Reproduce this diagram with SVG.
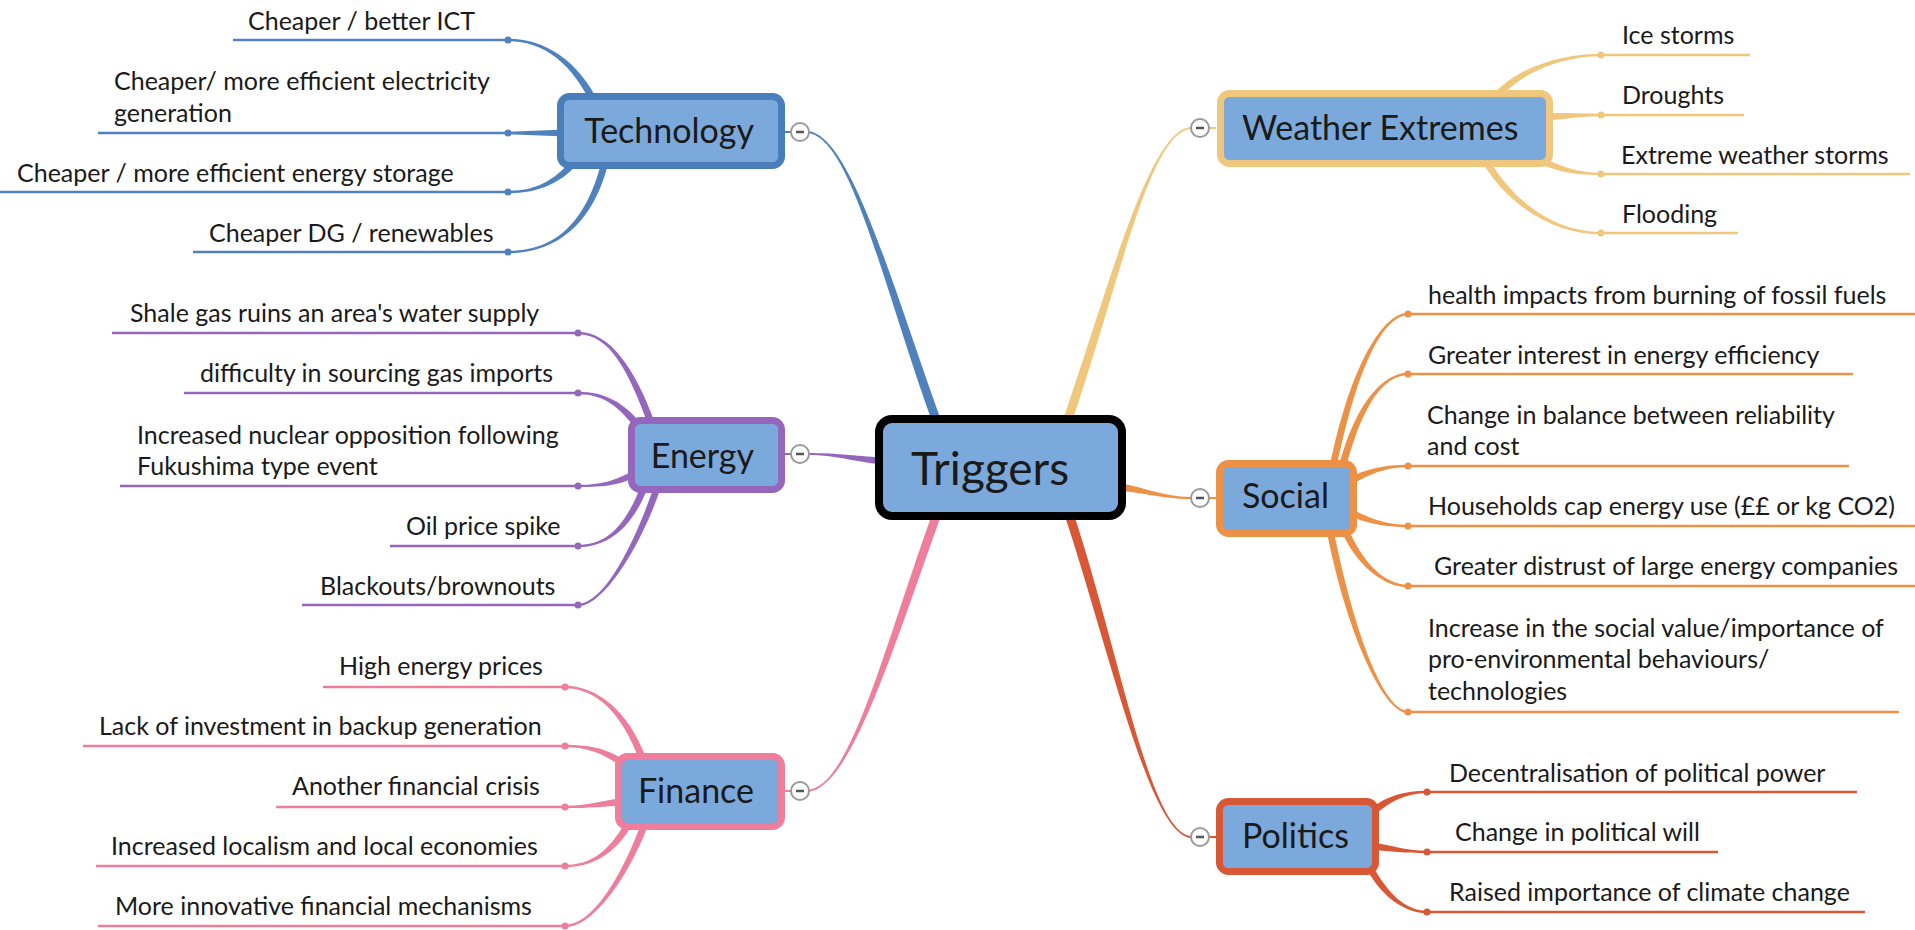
<svg xmlns="http://www.w3.org/2000/svg" width="1915" height="930" viewBox="0 0 1915 930">
<style>
text{font-family:Lato,"Open Sans","Liberation Sans",sans-serif;fill:#1a1a1a}
.leaf{font-size:25px}
.topic{font-size:34px}
.box{fill:#7BA9DB;stroke-width:7}
.ln{stroke-width:2.5;fill:none}
.tc{fill:#4F81BD}.tl{stroke:#4F81BD}
.ec{fill:#9467BD}.el{stroke:#9467BD}
.fc{fill:#EE7E9B}.fl{stroke:#EE7E9B}
.wc{fill:#EFC87E}.wl{stroke:#EFC87E}
.sc{fill:#EC9146}.sl{stroke:#EC9146}
.pc{fill:#D85734}.pl{stroke:#D85734}
.col circle{fill:#fff;stroke:#9a9a9a;stroke-width:2}
.col line{stroke:#555;stroke-width:2.5}
</style>
<g id="connectors">
<path class="tc" d="M785,131 H806 C850,131 891.2,282.5 942.2,423.5 L933.8,426.5 C882.8,285.5 850,133 806,133 H785 Z"/>
<path class="ec" d="M785,453 H806 C840,453 860,456.5 885,457.5 L885,464.5 C860,463.5 840,455 806,455 H785 Z"/>
<path class="fc" d="M785,790 H806 C850,790 882.8,650.5 933.8,509.5 L942.2,512.5 C891.2,653.5 850,792 806,792 H785 Z"/>
<path class="wc" d="M1216,129 H1192 C1150,129 1119.3,284.5 1070.3,426.5 L1061.7,423.5 C1110.7,281.5 1150,127 1192,127 H1216 Z"/>
<path class="sc" d="M1216,499 H1192 C1160,499 1140,491.5 1115,490.5 L1115,483.5 C1140,484.5 1160,497 1192,497 H1216 Z"/>
<path class="pc" d="M1216,838 H1192 C1150,838 1110.7,653.5 1063.7,512.5 L1072.3,509.5 C1119.3,650.5 1150,836 1192,836 H1216 Z"/>
<path class="tc" d="M508,38.8 C545,38.8 578.2,60.5 599.2,103.5 L592.8,106.5 C571.8,63.5 545,41.2 508,41.2 Z"/>
<path class="tc" d="M508,131.8 L566,129.5 L566,136.5 L508,134.2 Z"/>
<path class="tc" d="M508,190.8 C540,190.8 557.3,177.8 575.3,155.8 L580.7,160.2 C562.7,182.2 540,193.2 508,193.2 Z"/>
<path class="tc" d="M508,250.8 C545,250.8 584.6,234.2 602.6,157.2 L609.4,158.8 C591.4,235.8 545,253.2 508,253.2 Z"/>
<g class="tl ln"><path d="M233,40H508M98,133H508M0,192H508M193,252H508"/></g>
<g class="tc"><circle cx="508" cy="40" r="3.5"/><circle cx="508" cy="133" r="3.5"/><circle cx="508" cy="192" r="3.5"/><circle cx="508" cy="252" r="3.5"/></g>
<path class="ec" d="M578,331.8 C610,331.8 635.3,368.8 655.3,423.8 L648.7,426.2 C628.7,371.2 610,334.2 578,334.2 Z"/>
<path class="ec" d="M578,391.8 C605,391.8 624.8,402.8 642.8,425.8 L637.2,430.2 C619.2,407.2 605,394.2 578,394.2 Z"/>
<path class="ec" d="M578,484.8 C605,484.8 618.3,478.9 636.3,468.9 L639.7,475.1 C621.7,485.1 605,487.2 578,487.2 Z"/>
<path class="ec" d="M578,544.8 C605,544.8 624.7,528.8 641.7,483.8 L648.3,486.2 C631.3,531.2 605,547.2 578,547.2 Z"/>
<path class="ec" d="M578,603.8 C605,603.8 636.7,538.9 654.7,483.9 L661.3,486.1 C643.3,541.1 605,606.2 578,606.2 Z"/>
<g class="el ln"><path d="M112,333H578M184,393H578M120,486H578M390,546H578M302,605H578"/></g>
<g class="ec"><circle cx="578" cy="333" r="3.5"/><circle cx="578" cy="393" r="3.5"/><circle cx="578" cy="486" r="3.5"/><circle cx="578" cy="546" r="3.5"/><circle cx="578" cy="605" r="3.5"/></g>
<path class="fc" d="M565,685.8 C595,685.8 628.3,708.8 646.3,758.8 L639.7,761.2 C621.7,711.2 595,688.2 565,688.2 Z"/>
<path class="fc" d="M565,744.8 C590,744.8 610.1,749.2 627.1,762.2 L622.9,767.8 C605.9,754.8 590,747.2 565,747.2 Z"/>
<path class="fc" d="M565,805.8 C590,805.8 605,799.5 622,798.5 L622,805.5 C605,806.5 590,808.2 565,808.2 Z"/>
<path class="fc" d="M565,864.8 C592,864.8 609,850.2 625,823.2 L631,826.8 C615,853.8 592,867.2 565,867.2 Z"/>
<path class="fc" d="M565,924.8 C595,924.8 624.7,868.8 641.7,821.8 L648.3,824.2 C631.3,871.2 595,927.2 565,927.2 Z"/>
<g class="fl ln"><path d="M323,687H565M83,746H565M276,807H565M96,866H565M98,926H565"/></g>
<g class="fc"><circle cx="565" cy="687" r="3.5"/><circle cx="565" cy="746" r="3.5"/><circle cx="565" cy="807" r="3.5"/><circle cx="565" cy="866" r="3.5"/><circle cx="565" cy="926" r="3.5"/></g>
<path class="wc" d="M1601,56.2 C1565,56.2 1522.7,70.2 1497.7,100.2 L1492.3,95.8 C1517.3,65.8 1565,53.8 1601,53.8 Z"/>
<path class="wc" d="M1601,116.2 C1580,116.2 1565,119.5 1545,120.5 L1545,113.5 C1565,112.5 1580,113.8 1601,113.8 Z"/>
<path class="wc" d="M1601,175.2 C1580,175.2 1558.4,173.1 1538.4,163.1 L1541.6,156.9 C1561.6,166.9 1580,172.8 1601,172.8 Z"/>
<path class="wc" d="M1601,234.2 C1560,234.2 1512,211.8 1482,161.8 L1488,158.2 C1518,208.2 1560,231.8 1601,231.8 Z"/>
<g class="wl ln"><path d="M1601,55H1750M1601,115H1744M1601,174H1910M1601,233H1738"/></g>
<g class="wc"><circle cx="1601" cy="55" r="3.5"/><circle cx="1601" cy="115" r="3.5"/><circle cx="1601" cy="174" r="3.5"/><circle cx="1601" cy="233" r="3.5"/></g>
<path class="sc" d="M1408,315.2 C1385,315.2 1358.4,360.7 1336.4,468.7 L1329.6,467.3 C1351.6,359.3 1385,312.8 1408,312.8 Z"/>
<path class="sc" d="M1408,375.2 C1385,375.2 1363.4,400.9 1345.4,468.9 L1338.6,467.1 C1356.6,399.1 1385,372.8 1408,372.8 Z"/>
<path class="sc" d="M1408,467.2 C1385,467.2 1366.9,474.9 1351.9,484.9 L1348.1,479.1 C1363.1,469.1 1385,464.8 1408,464.8 Z"/>
<path class="sc" d="M1408,527.2 C1385,527.2 1363.4,523.1 1348.4,515.1 L1351.6,508.9 C1366.6,516.9 1385,524.8 1408,524.8 Z"/>
<path class="sc" d="M1408,587.2 C1385,587.2 1356.8,566.4 1341.8,531.4 L1348.2,528.6 C1363.2,563.6 1385,584.8 1408,584.8 Z"/>
<path class="sc" d="M1408,713.2 C1385,713.2 1348.6,640.7 1326.6,530.7 L1333.4,529.3 C1355.4,639.3 1385,710.8 1408,710.8 Z"/>
<g class="sl ln"><path d="M1408,314H1915M1408,374H1853M1408,466H1849M1408,526H1915M1408,586H1915M1408,712H1899"/></g>
<g class="sc"><circle cx="1408" cy="314" r="3.5"/><circle cx="1408" cy="374" r="3.5"/><circle cx="1408" cy="466" r="3.5"/><circle cx="1408" cy="526" r="3.5"/><circle cx="1408" cy="586" r="3.5"/><circle cx="1408" cy="712" r="3.5"/></g>
<path class="pc" d="M1427,793.2 C1405,793.2 1392.1,800.8 1374.1,814.8 L1369.9,809.2 C1387.9,795.2 1405,790.8 1427,790.8 Z"/>
<path class="pc" d="M1427,853.2 C1405,853.2 1390,851.5 1372,849.5 L1372,842.5 C1390,844.5 1405,850.8 1427,850.8 Z"/>
<path class="pc" d="M1427,913.2 C1405,913.2 1382,896.7 1367,869.7 L1373,866.3 C1388,893.3 1405,910.8 1427,910.8 Z"/>
<g class="pl ln"><path d="M1427,792H1857M1427,852H1718M1427,912H1865"/></g>
<g class="pc"><circle cx="1427" cy="792" r="3.5"/><circle cx="1427" cy="852" r="3.5"/><circle cx="1427" cy="912" r="3.5"/></g>
</g>

<g id="triggers">
<rect x="879" y="419" width="243" height="97" rx="13" fill="#7BA9DB" stroke="#000" stroke-width="8"/>
<text x="911" y="485" style="font-size:46px">Triggers</text>
</g>

<g id="technology">
<rect class="box" x="560.5" y="96.5" width="221" height="69" rx="9" stroke="#4A7EBB"/>
<text class="topic" x="754" y="143" text-anchor="end">Technology</text>
<g class="col"><circle cx="800" cy="132" r="9"/><line x1="796" y1="132" x2="804" y2="132"/></g>
<text class="leaf" x="248" y="30">Cheaper / better ICT</text>
<text class="leaf" x="114" y="90">Cheaper/ more efficient electricity</text>
<text class="leaf" x="114" y="122">generation</text>
<text class="leaf" x="17" y="182">Cheaper / more efficient energy storage</text>
<text class="leaf" x="209" y="242">Cheaper DG / renewables</text>
</g>

<g id="energy">
<rect class="box" x="631.5" y="420.5" width="150" height="69" rx="9" stroke="#9467BD"/>
<text class="topic" x="754" y="468" text-anchor="end">Energy</text>
<g class="col"><circle cx="800" cy="454" r="9"/><line x1="796" y1="454" x2="804" y2="454"/></g>
<text class="leaf" x="130" y="322">Shale gas ruins an area's water supply</text>
<text class="leaf" x="200" y="382">difficulty in sourcing gas imports</text>
<text class="leaf" x="137" y="444">Increased nuclear opposition following</text>
<text class="leaf" x="137" y="475">Fukushima type event</text>
<text class="leaf" x="406" y="535">Oil price spike</text>
<text class="leaf" x="320" y="595">Blackouts/brownouts</text>
</g>

<g id="finance">
<rect class="box" x="618.5" y="756.5" width="163" height="70" rx="9" stroke="#EE7E9B"/>
<text class="topic" x="754" y="803" text-anchor="end">Finance</text>
<g class="col"><circle cx="800" cy="791" r="9"/><line x1="796" y1="791" x2="804" y2="791"/></g>
<text class="leaf" x="339" y="675">High energy prices</text>
<text class="leaf" x="99" y="735">Lack of investment in backup generation</text>
<text class="leaf" x="292" y="795">Another financial crisis</text>
<text class="leaf" x="111" y="855">Increased localism and local economies</text>
<text class="leaf" x="115" y="915">More innovative financial mechanisms</text>
</g>

<g id="weather">
<rect class="box" x="1220.5" y="93.5" width="329" height="70" rx="9" stroke="#EFC87E"/>
<text class="topic" x="1242" y="140">Weather Extremes</text>
<g class="col"><circle cx="1200" cy="128" r="9"/><line x1="1196" y1="128" x2="1204" y2="128"/></g>
<text class="leaf" x="1622" y="44">Ice storms</text>
<text class="leaf" x="1622" y="104">Droughts</text>
<text class="leaf" x="1621" y="164">Extreme weather storms</text>
<text class="leaf" x="1622" y="223">Flooding</text>
</g>

<g id="social">
<rect class="box" x="1219.5" y="463.5" width="134" height="70" rx="9" stroke="#EC9146"/>
<text class="topic" x="1242" y="508">Social</text>
<g class="col"><circle cx="1200" cy="498" r="9"/><line x1="1196" y1="498" x2="1204" y2="498"/></g>
<text class="leaf" x="1428" y="304">health impacts from burning of fossil fuels</text>
<text class="leaf" x="1428" y="364">Greater interest in energy efficiency</text>
<text class="leaf" x="1427" y="424">Change in balance between reliability</text>
<text class="leaf" x="1427" y="455">and cost</text>
<text class="leaf" x="1428" y="515">Households cap energy use (££ or kg CO2)</text>
<text class="leaf" x="1434" y="575">Greater distrust of large energy companies</text>
<text class="leaf" x="1428" y="637">Increase in the social value/importance of</text>
<text class="leaf" x="1428" y="668">pro-environmental behaviours/</text>
<text class="leaf" x="1428" y="700">technologies</text>
</g>

<g id="politics">
<rect class="box" x="1219.5" y="801.5" width="156" height="70" rx="9" stroke="#D85734"/>
<text class="topic" x="1242" y="848">Politics</text>
<g class="col"><circle cx="1200" cy="837" r="9"/><line x1="1196" y1="837" x2="1204" y2="837"/></g>
<text class="leaf" x="1449" y="782">Decentralisation of political power</text>
<text class="leaf" x="1455" y="841">Change in political will</text>
<text class="leaf" x="1449" y="901">Raised importance of climate change</text>
</g>
</svg>
